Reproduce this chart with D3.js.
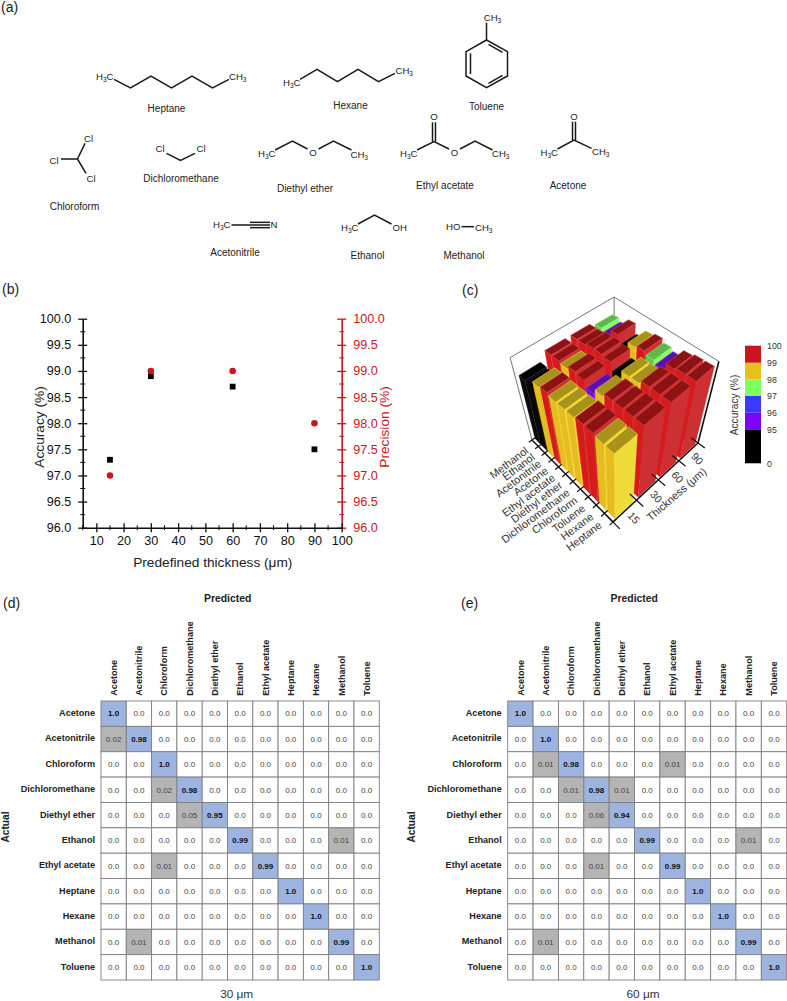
<!DOCTYPE html>
<html><head><meta charset="utf-8">
<script src="https://cdnjs.cloudflare.com/ajax/libs/d3/7.8.5/d3.min.js"></script>
<style>
html,body{margin:0;padding:0;background:#fff}
svg{display:block}
text{font-family:"Liberation Sans",Arial,sans-serif}
</style></head><body>
<script>
// ---------- data ----------
const thicknessB = [15, 30, 60, 90];
const accuracy = [97.3, 98.9, 98.7, 97.5];
const precision = [97, 99, 99, 98];

const thickness3d = [15, 30, 60, 90];
const solvents3d = ["Heptane","Hexane","Toluene","Chloroform","Dichloromethane","Diethyl ether","Ethyl acetate","Acetone","Acetonitrile","Ethanol","Methanol"];
const acc15 = [98,98,99,99,98,98,98,99,98,93.5,94];
const acc30 = [100,100,100,100,98,95,99,100,98,99,99];
const acc60 = [100,100,100,98,98,94,99,100,100,99,99];
const acc90 = [100,100,99,95,97,99,98,93,99,95,97];
const legendStops = [0,95,96,97,98,99,100];
const legendColors = ["#000000","#8000ff","#3a3aff","#80ff60","#e8c01e","#c8161c"];

const classes = ["Acetone","Acetonitrile","Chloroform","Dichloromethane","Diethyl ether","Ethanol","Ethyl acetate","Heptane","Hexane","Methanol","Toluene"];
const cm30 = [
[1,0,0,0,0,0,0,0,0,0,0],
[0.02,0.98,0,0,0,0,0,0,0,0,0],
[0,0,1,0,0,0,0,0,0,0,0],
[0,0,0.02,0.98,0,0,0,0,0,0,0],
[0,0,0,0.05,0.95,0,0,0,0,0,0],
[0,0,0,0,0,0.99,0,0,0,0.01,0],
[0,0,0.01,0,0,0,0.99,0,0,0,0],
[0,0,0,0,0,0,0,1,0,0,0],
[0,0,0,0,0,0,0,0,1,0,0],
[0,0.01,0,0,0,0,0,0,0,0.99,0],
[0,0,0,0,0,0,0,0,0,0,1]];
const cm60 = [
[1,0,0,0,0,0,0,0,0,0,0],
[0,1,0,0,0,0,0,0,0,0,0],
[0,0.01,0.98,0,0,0,0.01,0,0,0,0],
[0,0,0.01,0.98,0.01,0,0,0,0,0,0],
[0,0,0,0.06,0.94,0,0,0,0,0,0],
[0,0,0,0,0,0.99,0,0,0,0.01,0],
[0,0,0,0.01,0,0,0.99,0,0,0,0],
[0,0,0,0,0,0,0,1,0,0,0],
[0,0,0,0,0,0,0,0,1,0,0],
[0,0.01,0,0,0,0,0,0,0,0.99,0],
[0,0,0,0,0,0,0,0,0,0,1]];

// ---------- page ----------
const RED = "#c8161c", INK = "#222";
const svg = d3.select("body").append("svg").attr("width",787).attr("height",1001).attr("viewBox","0 0 787 1001");
[["(a)",1,12],["(b)",2,294],["(c)",462,295],["(d)",3,608],["(e)",461,608]].forEach(([t,x,y])=>
  svg.append("text").attr("x",x).attr("y",y).attr("font-size",14).attr("fill","#222").text(t));

// ---------- (a) structural formulas, sketched on a 2:3 grid ----------
(function(){
  const g = svg.append("g");
  const sx = d3.scaleLinear().domain([0,1574]).range([0,787]);
  const sy = d3.scaleLinear().domain([0,840]).range([0,280]);
  const bond = pts => g.append("path").attr("d",d3.line().x(d=>sx(d[0])).y(d=>sy(d[1]))(pts)).attr("fill","none").attr("stroke","#1a1a1a").attr("stroke-width",1.5);
  const atom = (t,x,y,a="middle") => {
    const el = g.append("text").attr("x",sx(x)).attr("y",sy(y)+3.4).attr("text-anchor",a).attr("font-size",9.6).attr("fill","#222");
    t.split(/(\d)/).forEach((s,i)=>{ if(!s) return;
      const sp = el.append("tspan").text(s);
      if(i%2){sp.attr("font-size",6.6).attr("dy",2);} else if(i>0){sp.attr("dy",-2);} });
  };
  const name = (t,x,y) => g.append("text").attr("x",sx(x)).attr("y",sy(y)+3.5).attr("text-anchor","middle").attr("font-size",10).attr("fill","#222").text(t);

  // heptane
  bond([[228,238],[261,264],[302,228],[343,264],[384,228],[425,264],[458,238]]);
  atom("H3C",227,230,"end"); atom("CH3",458,230,"start"); name("Heptane",333,324);
  // hexane
  bond([[600,238],[634,208],[675,245],[716,208],[757,245],[790,220]]);
  atom("H3C",601,248,"end"); atom("CH3",791,213,"start"); name("Hexane",701,316);
  // toluene
  bond([[973,120],[1015,155],[1015,228],[973,263],[932,228],[932,155],[973,120]]);
  bond([[973,120],[973,68]]);
  bond([[977,133],[1005,157]]); bond([[941,160],[941,222]]); bond([[977,250],[1005,226]]);
  atom("CH3",985,53); name("Toluene",973,318);
  // chloroform
  bond([[155,477],[170,430]]); bond([[155,477],[172,520]]); bond([[155,477],[122,477]]);
  atom("Cl",177,415); atom("Cl",108,481); atom("Cl",182,537); name("Chloroform",149,618);
  // dichloromethane
  bond([[333,460],[361,481],[390,460]]);
  atom("Cl",320,447); atom("Cl",402,447); name("Dichloromethane",362,535);
  // diethyl ether
  bond([[550,450],[585,423],[615,447]]); bond([[637,447],[667,423],[703,450]]);
  atom("H3C",551,460,"end"); atom("O",626,459); atom("CH3",701,463,"start"); name("Diethyl ether",610,564);
  // ethyl acetate
  bond([[834,450],[868,425],[898,447]]); bond([[920,447],[950,423],[985,450]]);
  bond([[865,425],[865,367]]); bond([[871,425],[871,367]]);
  atom("H3C",835,460,"end"); atom("O",909,459); atom("CH3",984,462,"start"); atom("O",868,351); name("Ethyl acetate",890,557);
  // acetone
  bond([[1115,447],[1148,420],[1183,445]]);
  bond([[1145,420],[1145,365]]); bond([[1151,420],[1151,365]]);
  atom("H3C",1116,457,"end"); atom("CH3",1184,455,"start"); atom("O",1148,349); name("Acetone",1136,555);
  // acetonitrile
  bond([[463,675],[500,675]]);
  bond([[500,667],[540,667]]); bond([[500,675],[540,675]]); bond([[500,683],[540,683]]);
  atom("H3C",461,675,"end"); atom("N",548,675); name("Acetonitrile",470,757);
  // ethanol
  bond([[716,672],[749,645],[783,672]]);
  atom("H3C",717,683,"end"); atom("OH",785,683,"start"); name("Ethanol",735,767);
  // methanol
  bond([[923,680],[948,680]]);
  atom("HO",921,680,"end"); atom("CH3",950,683,"start"); name("Methanol",928,766);
})();

// ---------- (b) scatter with two y axes ----------
(function(){
  const x = d3.scaleLinear().domain([5,100]).range([82.7,341.7]);
  const y = d3.scaleLinear().domain([96,100]).range([527.7,318.7]);
  const majY = d3.range(96,100.01,0.5), minY = d3.range(96.25,100,0.5);
  const majX = d3.range(10,100.01,10), minX = d3.range(5,100,10);
  const g = svg.append("g");
  function axis(gen, tx, ty, color, maj, min, fmt, kind){
    const a = g.append("g").attr("transform",`translate(${tx},${ty})`);
    a.call(gen.tickValues(maj).tickFormat(fmt).tickSizeOuter(0));
    a.select(".domain").attr("stroke",color).attr("stroke-width",1.6);
    a.selectAll("line").attr("stroke",color).attr("stroke-width",1.3);
    a.selectAll("text").attr("fill",color).attr("font-size",12.6).attr("font-family",null);
    if(kind==="h"){
      a.selectAll(".tick line").attr("x1",-4.5).attr("x2",4.5);
      a.append("g").selectAll("line").data(min).join("line")
        .attr("y1",d=>y(d)-ty).attr("y2",d=>y(d)-ty).attr("x1",-2.5).attr("x2",2.5).attr("stroke",color).attr("stroke-width",1);
    } else {
      a.selectAll(".tick line").attr("y1",-4.5).attr("y2",4.5);
      a.append("g").selectAll("line").data(min).join("line")
        .attr("x1",d=>x(d)).attr("x2",d=>x(d)).attr("y1",-2.5).attr("y2",2.5).attr("stroke",color).attr("stroke-width",1);
    }
    return a;
  }
  axis(d3.axisLeft(y).tickPadding(7.5).tickSize(4),82.7,0,"#111",majY,minY,d3.format(".1f"),"h");
  axis(d3.axisRight(y).tickPadding(7.5).tickSize(4),341.7,0,RED,majY,minY,d3.format(".1f"),"h");
  const bot = axis(d3.axisBottom(x).tickPadding(5).tickSize(4),0,527.7,"#111",majX,minX,d3.format("d"),"v");
  bot.selectAll(".tick text").attr("dy",null).attr("y",17);

  g.selectAll(".acc").data(thicknessB).join("rect").attr("class","acc")
    .attr("x",(d,i)=>x(d)-2.9).attr("y",(d,i)=>y(accuracy[i])-2.9).attr("width",5.8).attr("height",5.8).attr("fill","#000");
  g.selectAll(".pre").data(thicknessB).join("circle").attr("class","pre")
    .attr("cx",d=>x(d)).attr("cy",(d,i)=>y(precision[i])).attr("r",3.3).attr("fill",RED);

  g.append("text").attr("transform","translate(44,427) rotate(-90)").attr("text-anchor","middle").attr("font-size",13.7).attr("fill","#222").text("Accuracy (%)");
  g.append("text").attr("transform","translate(389,427) rotate(-90)").attr("text-anchor","middle").attr("font-size",13.7).attr("fill",RED).text("Precision (%)");
  g.append("text").attr("x",212.8).attr("y",567).attr("text-anchor","middle").attr("font-size",13.7).attr("fill","#222").text("Predefined thickness (μm)");
})();

// ---------- (c) 3D bars through a perspective projection ----------
(function(){
  const F=[613,522], R=[698,443], L=[532,440], B=[614.6,380.5], N=[617,760];
  // unit square -> base quad (a along thickness, b along solvent)
  const dx1=R[0]-B[0], dx2=L[0]-B[0], sx=F[0]-R[0]+B[0]-L[0];
  const dy1=R[1]-B[1], dy2=L[1]-B[1], sy=F[1]-R[1]+B[1]-L[1];
  const den=dx1*dy2-dx2*dy1;
  const g0=(sx*dy2-dx2*sy)/den, h0=(dx1*sy-sx*dy1)/den;
  const A=R[0]-F[0]+g0*R[0], Bq=L[0]-F[0]+h0*L[0], D=R[1]-F[1]+g0*R[1], E=L[1]-F[1]+h0*L[1];
  const lifted=(a,b,k)=>{
    const w=g0*a+h0*b+1;
    const px=(A*a+Bq*b+F[0])/w, py=(D*a+E*b+F[1])/w;
    return [N[0]+(px-N[0])*k, N[1]+(py-N[1])*k];
  };
  const project=(a,b,z=0)=>lifted(a,b,1+(0.283-0.0365*a-0.055*b)*z);       // bars, z=1 at 100 %
  const wall=(a,b,t=0)=>lifted(a,b,1+(0.295-0.0375*(a+b))*t);               // frame box
  const aS=d3.scaleBand().domain(thickness3d).range([0,1]).paddingInner(0.22).paddingOuter(0.11);
  const bS=d3.scaleBand().domain(solvents3d).range([0,1]).paddingInner(0.18).paddingOuter(0.09);
  const zS=d3.scaleLinear().domain([55,100]).range([0,1]);
  const color=d3.scaleThreshold().domain(legendStops.slice(1,-1)).range(legendColors);
  const shades={ "#000000":["#000","#0a0a0a","#0c0c0c"], "#8000ff":["#5a10b0","#7a00e8","#8a10ff"], "#3a3aff":["#2a2ab0","#3030e0","#4040ff"],
    "#80ff60":["#5cb84c","#62c850","#86ff66"], "#e8c01e":["#a8921a","#e6bd20","#f0dc38"], "#c8161c":["#8c1214","#d81a1c","#cc3032"] };
  const edge={ "#000000":"#222", "#8000ff":"#9a40ff", "#3a3aff":"#6060ff", "#80ff60":"#a8ff90", "#e8c01e":"#f4e050", "#c8161c":"#e05050" };
  const g=svg.append("g");
  const line=d3.line();
  const poly=(pts,fill,st)=>g.append("path").attr("d",line(pts)+"Z").attr("fill",fill).attr("stroke",st||fill).attr("stroke-width",st?0.5:0.3);
  const seg=(p,q,c,w)=>g.append("path").attr("d",line([p,q])).attr("stroke",c).attr("stroke-width",w).attr("fill","none");

  // walls
  [.2,.4,.6,.8].forEach(t=>{
    seg(wall(0,1,t),wall(1,1,t),"#e6e6e6",.6);
    seg(wall(1,0,t),wall(1,1,t),"#e6e6e6",.6);
  });
  seg(wall(0,1,0),wall(0,1,1),"#777",1);
  seg(wall(0,1,1),wall(1,1,1),"#777",1);
  seg(wall(1,1,1),wall(1,0,1),"#777",1);
  seg(wall(1,1,0),wall(1,1,1),"#777",1);
  seg(wall(1,0,1),wall(1,0,0),"#111",1.6);

  const rows=[acc15,acc30,acc60,acc90];
  const cells=[];
  thickness3d.forEach((t,i)=>solvents3d.forEach((s,j)=>cells.push({t,s,i,j,v:rows[i][j]})));
  cells.sort((p,q)=>(q.i-p.i)||(q.j-p.j));
  cells.forEach(c=>{
    const a0=aS(c.t),a1=a0+aS.bandwidth(),b0=bS(c.s),b1=b0+bS.bandwidth(),z=zS(c.v);
    const col=color(c.v);
    const [top,left,right]=shades[col];
    poly([project(a0,b1,0),project(a0,b0,0),project(a0,b0,z),project(a0,b1,z)],left);
    poly([project(a0,b0,0),project(a1,b0,0),project(a1,b0,z),project(a0,b0,z)],right);
    poly([project(a0,b0,z),project(a1,b0,z),project(a1,b1,z),project(a0,b1,z)],top,edge[col]);
  });

  // axes on the base edges
  seg(project(0,1),project(0,0),"#111",1.5);
  seg(project(0,0),project(1,0),"#111",1.5);
  const nb=solvents3d.length;
  d3.range(nb+1).forEach(i=>{const t=i/nb; seg(project(-0.035,t),project(0.035,t),"#111",1.2);});
  d3.range(5).forEach(i=>{const t=i/4; seg(project(t,-0.07),project(t,0.07),"#111",1.2);});
  solvents3d.forEach((s,i)=>{
    const p=project(0,(i+0.5)/nb);
    g.append("text").attr("transform",`translate(${p[0]-6},${p[1]+9}) rotate(-37)`).attr("text-anchor","end").attr("font-size",10.9).attr("fill","#333").text(s);
  });
  thickness3d.forEach((t,i)=>{
    const p=project((i+0.5)/4,0);
    g.append("text").attr("transform",`translate(${p[0]+2},${p[1]+5}) rotate(48)`).attr("font-size",10.6).attr("fill","#333").text(t);
  });
  g.append("text").attr("transform","translate(679,497) rotate(-41)").attr("text-anchor","middle").attr("font-size",10.9).attr("fill","#333").text("Thickness (μm)");

  // colour legend
  const ly=d3.scaleLinear().domain(legendStops).range([463.3,429.3,412.7,396,379.3,362.7,345.7]);
  legendColors.forEach((c,i)=>g.append("rect").attr("x",745).attr("width",16).attr("y",ly(legendStops[i+1])).attr("height",ly(legendStops[i])-ly(legendStops[i+1])).attr("fill",c));
  legendStops.forEach(v=>g.append("text").attr("x",767).attr("y",ly(v)+3.2).attr("font-size",8.8).attr("fill","#333").text(v));
  g.append("text").attr("transform","translate(738,405) rotate(-90)").attr("text-anchor","middle").attr("font-size",10.2).attr("fill","#333").text("Accuracy (%)");
})();

// ---------- (d)(e) confusion matrices ----------
function confusion(matrix, x0, x1, predX, actualX, title, titleX){
  const x=d3.scaleBand().domain(classes).range([x0,x1]);
  const y=d3.scaleBand().domain(classes).range([701,980]);
  const g=svg.append("g");
  const fmt=v=>(v===0||v===1)?v.toFixed(1):String(v);
  classes.forEach((r,i)=>classes.forEach((c,j)=>{
    const v=matrix[i][j];
    g.append("rect").attr("x",x(c)).attr("y",y(r)).attr("width",x.bandwidth()).attr("height",y.bandwidth())
      .attr("fill",i===j?"#9db4e0":(v>0?"#b4b4b4":"#fff")).attr("stroke","#7f7f7f").attr("stroke-width",0.9);
  }));
  classes.forEach((r,i)=>classes.forEach((c,j)=>{
    const v=matrix[i][j];
    g.append("text").attr("x",x(c)+x.bandwidth()/2).attr("y",y(r)+y.bandwidth()/2+2.8).attr("text-anchor","middle")
      .attr("font-size",8).attr("font-weight",i===j?"bold":"normal").attr("fill",i===j?"#111":"#444").text(fmt(v));
  }));
  classes.forEach(r=>g.append("text").attr("x",x0-6).attr("y",y(r)+y.bandwidth()/2+2.4).attr("text-anchor","end").attr("font-size",9.1).attr("font-weight","bold").attr("fill","#222").text(r));
  classes.forEach(c=>g.append("text").attr("transform",`translate(${x(c)+x.bandwidth()/2+3.2},695.7) rotate(-90)`).attr("font-size",9.1).attr("font-weight","bold").attr("fill","#222").text(c));
  g.append("text").attr("x",predX).attr("y",602).attr("text-anchor","middle").attr("font-size",10.4).attr("font-weight","bold").attr("fill","#222").text("Predicted");
  g.append("text").attr("transform",`translate(${actualX},827) rotate(-90)`).attr("text-anchor","middle").attr("font-size",10.2).attr("font-weight","bold").attr("fill","#222").text("Actual");
  g.append("text").attr("x",titleX).attr("y",998).attr("text-anchor","middle").attr("font-size",11.8).attr("fill","#333").text(title);
}
confusion(cm30,101,379.3,227.7,8.5,"30 μm",236.7);
confusion(cm60,507.7,786.7,634.3,415,"60 μm",643);
</script>
</body></html>
